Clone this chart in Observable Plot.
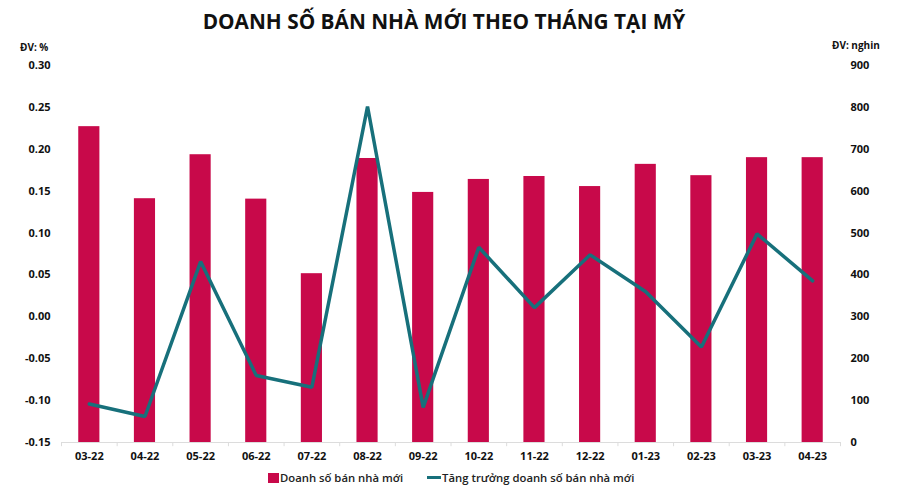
<!DOCTYPE html>
<html>
<head>
<meta charset="utf-8">
<script src="https://cdn.jsdelivr.net/npm/d3@7"></script>
<script src="https://cdn.jsdelivr.net/npm/@observablehq/plot@0.6"></script>
<style>
  body { margin: 0; background: #fff; font-family: "Open Sans", sans-serif; }
  #wrap { position: relative; width: 900px; height: 500px; }
  #title { height: 40px; line-height: 42px; text-align: center; font-size: 20.8px; font-weight: 700; color: #111; padding-right: 12px; }
  .unit { position: absolute; font-size: 10px; font-weight: 700; color: #111; }
  #legend { position: absolute; top: 470px; left: 268px; font-size: 11.3px; font-weight: 600; color: #222; display: flex; align-items: center; }
  .sw { display: inline-block; width: 11px; height: 10px; background: #C8094A; margin-right: 1px; }
  .ln { display: inline-block; width: 14px; height: 3px; background: #17707B; margin-left: 24px; margin-right: 1px; }
</style>
</head>
<body>
<div id="wrap">
  <div id="title">DOANH SỐ BÁN NHÀ MỚI THEO THÁNG TẠI MỸ</div>
  <div class="unit" style="left:20px; top:40px;">ĐV: %</div>
  <div class="unit" style="left:832px; top:38px;">ĐV: nghin</div>
  <div id="chart"></div>
  <div id="legend"><span class="sw"></span>Doanh số bán nhà mới<span class="ln"></span>Tăng trưởng doanh số bán nhà mới</div>
</div>
<script>
const months = ["03-22","04-22","05-22","06-22","07-22","08-22","09-22","10-22","11-22","12-22","01-23","02-23","03-23","04-23"];
const sales = [754, 582, 687, 581, 403, 678, 597, 628, 635, 611, 664, 637, 680, 680];
const growth = [-0.104, -0.119, 0.066, -0.070, -0.084, 0.251, -0.108, 0.083, 0.011, 0.074, 0.030, -0.036, 0.099, 0.043];
const leftTicks = [-0.15, -0.10, -0.05, 0.00, 0.05, 0.10, 0.15, 0.20, 0.25, 0.30];
const rightTicks = [0, 100, 200, 300, 400, 500, 600, 700, 800, 900];

const lo = -0.15, hi = 0.30, rMax = 900;
const toLeft = v => lo + v / rMax * (hi - lo);
const fromLeft = d => Math.round((d - lo) / (hi - lo) * rMax);

const rows = months.map((m, i) => ({month: m, sales: sales[i], growth: growth[i], salesY: toLeft(sales[i])}));

const step = (840 - 61) / months.length;

const chart = Plot.plot({
  width: 900,
  height: 428,
  marginTop: 25,
  marginBottom: 26,
  marginLeft: 61,
  marginRight: 60,
  style: {fontFamily: "Open Sans", fontSize: "11px", fontWeight: 700, color: "#111", background: "#fff"},
  x: {type: "band", domain: months, paddingInner: 0.62, paddingOuter: 0.31, align: 0.5, round: false},
  y: {domain: [lo, hi]},
  marks: [
    Plot.barY(rows, {x: "month", y1: lo, y2: "salesY", fill: "#C8094A"}),
    Plot.ruleY([lo], {stroke: "#dcdcdc", strokeWidth: 1}),
    Plot.ruleX(months, {x: d => d, y1: lo, y2: lo - 0.005, dx: -step / 2, stroke: "#dcdcdc"}),
    Plot.ruleX([months[months.length - 1]], {y1: lo, y2: lo - 0.005, dx: step / 2, stroke: "#dcdcdc"}),
    Plot.line(rows, {x: "month", y: "growth", stroke: "#17707B", strokeWidth: 3.5, strokeLinejoin: "miter"}),
    Plot.axisX({tickSize: 0, tickPadding: 10, label: null, fontWeight: 700}),
    Plot.axisY(leftTicks, {anchor: "left", tickSize: 0, tickPadding: 11, label: null, tickFormat: d => d.toFixed(2)}),
    Plot.axisY(rightTicks.map(toLeft), {anchor: "right", tickSize: 0, tickPadding: 10, label: null, tickFormat: d => String(fromLeft(d))})
  ]
});
document.getElementById("chart").appendChild(chart);
</script>
</body>
</html>
